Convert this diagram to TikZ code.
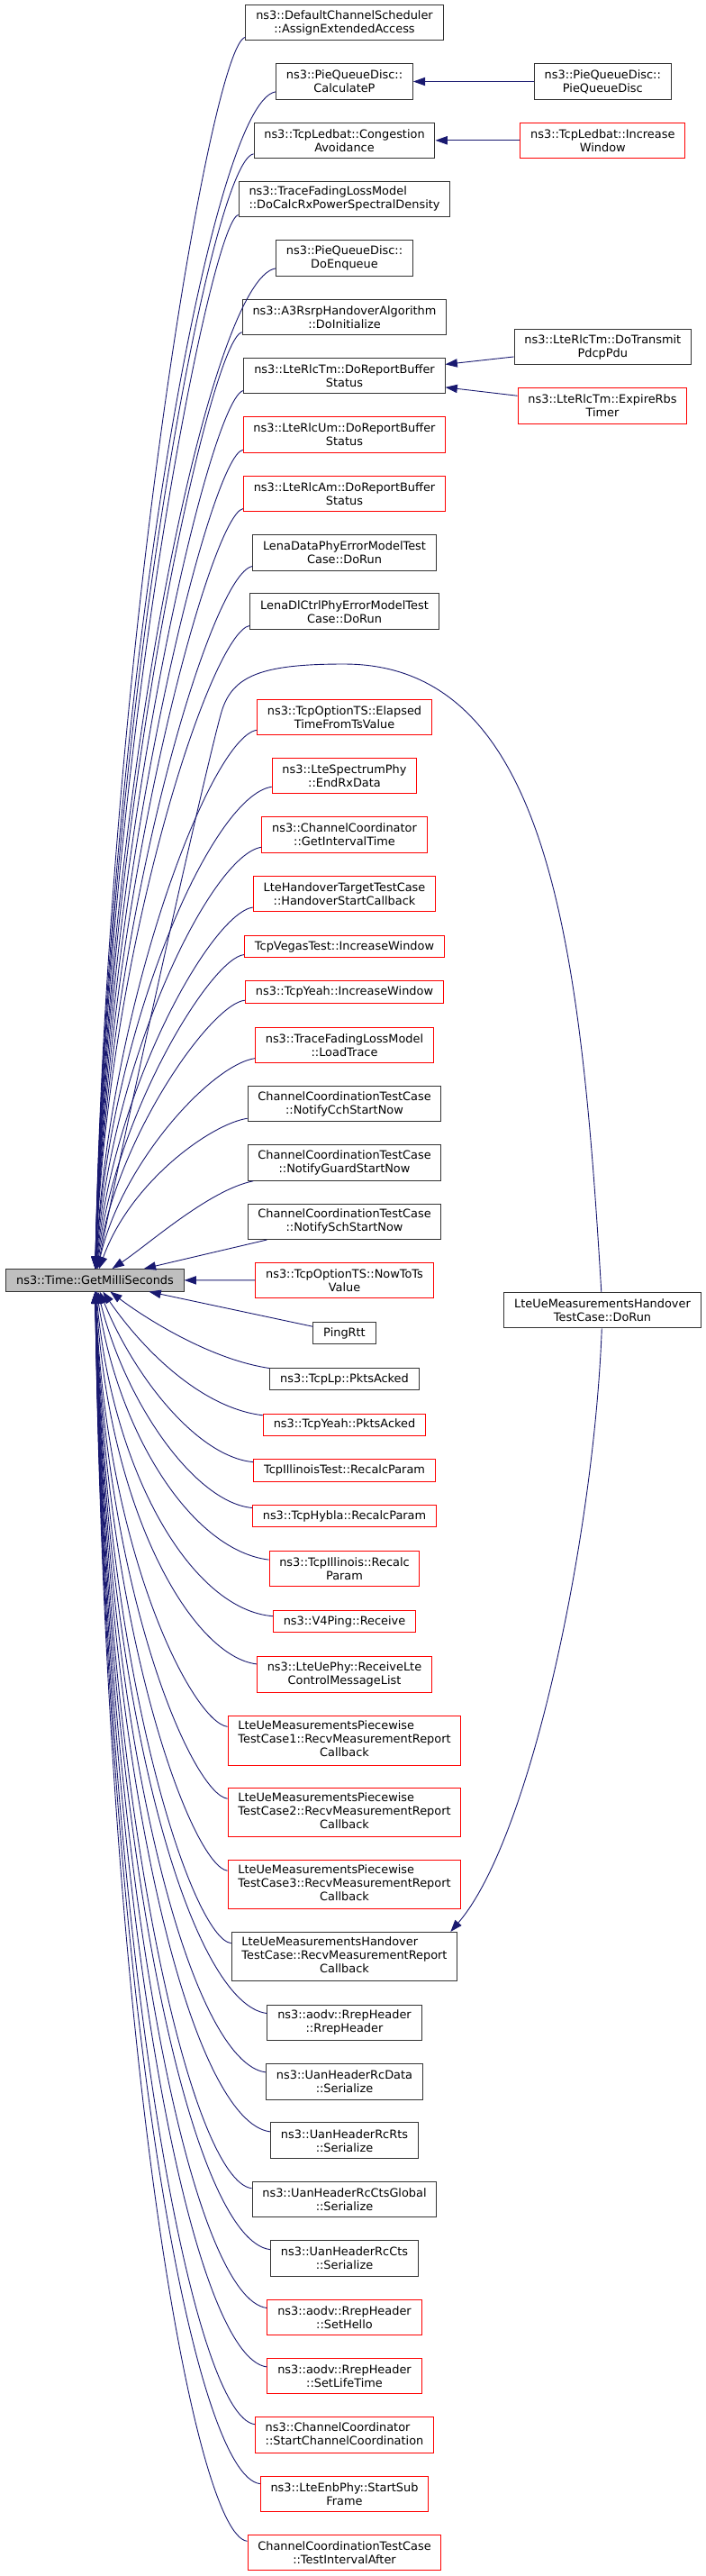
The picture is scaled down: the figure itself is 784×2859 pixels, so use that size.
\documentclass[tikz,border=0pt]{standalone}
\usepackage{fontspec}
\setmainfont{DejaVu Sans}
\usetikzlibrary{arrows.meta}
\definecolor{midnight}{HTML}{191970}
\newcommand{\leftlines}[1]{\begin{tabular}{@{}l@{}}#1\end{tabular}}
\newcommand{\midline}[1]{\multicolumn{1}{@{}c@{}}{#1}}

\begin{document}
\begin{tikzpicture}
    [
    x=1pt,y=-1pt,
    fn/.style={rectangle,draw=black!80,fill=white,line width=1pt,align=center,inner xsep=11.3pt,inner ysep=1pt,minimum height=24.5pt,font=\fontsize{12.9pt}{15pt}\selectfont},
    fnred/.style={fn,draw=red},
    fnroot/.style={fn,fill=black!25},
    lines2/.style={minimum height=39.5pt},
    lines3/.style={minimum height=54.5pt},
    callarrow/.style={draw=midnight,line width=0.9pt,-{Triangle[length=13.3pt,width=9.3pt]}},
    ]
    \useasboundingbox (0,0) rectangle (784,2859);

    \node (root) at (105.5,1420.8) [fnroot] {ns3::Time::GetMilliSeconds};

    \node (dcs) at (382.5,25) [fn,lines2] {ns3::DefaultChannelScheduler\\::AssignExtendedAccess};
    \node (calcp) at (382.5,90.5) [fn,lines2] {ns3::PieQueueDisc::\\CalculateP};
    \node (congav) at (382.5,155.8) [fn,lines2] {ns3::TcpLedbat::Congestion\\Avoidance};
    \node (docalc) at (382.5,221) [fn,lines2] {\leftlines{ns3::TraceFadingLossModel\\::DoCalcRxPowerSpectralDensity}};
    \node (doenq) at (382.5,286.5) [fn,lines2] {ns3::PieQueueDisc::\\DoEnqueue};
    \node (doinit) at (382.5,351.8) [fn,lines2] {ns3::A3RsrpHandoverAlgorithm\\::DoInitialize};
    \node (tmrbs) at (382.5,416.8) [fn,lines2] {ns3::LteRlcTm::DoReportBuffer\\Status};
    \node (umrbs) at (382.5,482.5) [fnred,lines2] {ns3::LteRlcUm::DoReportBuffer\\Status};
    \node (amrbs) at (382.5,547.8) [fnred,lines2] {ns3::LteRlcAm::DoReportBuffer\\Status};
    \node (lenadata) at (382.5,613.3) [fn,lines2] {LenaDataPhyErrorModelTest\\Case::DoRun};
    \node (lenadl) at (382.5,678.7) [fn,lines2] {LenaDlCtrlPhyErrorModelTest\\Case::DoRun};
    \node (elapsed) at (382.5,795.8) [fnred,lines2] {ns3::TcpOptionTS::Elapsed\\TimeFromTsValue};
    \node (endrx) at (382.5,861.2) [fnred,lines2] {ns3::LteSpectrumPhy\\::EndRxData};
    \node (getint) at (382.5,926.5) [fnred,lines2] {ns3::ChannelCoordinator\\::GetIntervalTime};
    \node (hostart) at (382.5,991.8) [fnred,lines2] {LteHandoverTargetTestCase\\::HandoverStartCallback};
    \node (vegas) at (382.5,1050.5) [fnred] {TcpVegasTest::IncreaseWindow};
    \node (yeahinc) at (382.5,1101.2) [fnred] {ns3::TcpYeah::IncreaseWindow};
    \node (loadtr) at (382.5,1159.8) [fnred,lines2] {ns3::TraceFadingLossModel\\::LoadTrace};
    \node (cch) at (382.5,1225.2) [fn,lines2] {ChannelCoordinationTestCase\\::NotifyCchStartNow};
    \node (guard) at (382.5,1290.5) [fn,lines2] {ChannelCoordinationTestCase\\::NotifyGuardStartNow};
    \node (sch) at (382.5,1355.8) [fn,lines2] {ChannelCoordinationTestCase\\::NotifySchStartNow};
    \node (nowto) at (382.5,1421) [fnred,lines2] {ns3::TcpOptionTS::NowToTs\\Value};
    \node (pingrtt) at (382.5,1479.7) [fn] {PingRtt};
    \node (lpacked) at (382.5,1530.7) [fn] {ns3::TcpLp::PktsAcked};
    \node (yeahacked) at (382.5,1581.3) [fnred] {ns3::TcpYeah::PktsAcked};
    \node (illtest) at (382.5,1632) [fnred] {TcpIllinoisTest::RecalcParam};
    \node (hybla) at (382.5,1682.5) [fnred] {ns3::TcpHybla::RecalcParam};
    \node (illrec) at (382.5,1741.2) [fnred,lines2] {ns3::TcpIllinois::Recalc\\Param};
    \node (v4recv) at (382.5,1799.7) [fnred] {ns3::V4Ping::Receive};
    \node (ctrlmsg) at (382.5,1858.5) [fnred,lines2] {ns3::LteUePhy::ReceiveLte\\ControlMessageList};
    \node (pw1) at (382.5,1931.8) [fnred,lines3] {\leftlines{LteUeMeasurementsPiecewise\\TestCase1::RecvMeasurementReport\\\midline{Callback}}};
    \node (pw2) at (382.5,2011.7) [fnred,lines3] {\leftlines{LteUeMeasurementsPiecewise\\TestCase2::RecvMeasurementReport\\\midline{Callback}}};
    \node (pw3) at (382.5,2091.7) [fnred,lines3] {\leftlines{LteUeMeasurementsPiecewise\\TestCase3::RecvMeasurementReport\\\midline{Callback}}};
    \node (horecv) at (382.5,2171.7) [fn,lines3] {\leftlines{LteUeMeasurementsHandover\\TestCase::RecvMeasurementReport\\\midline{Callback}}};
    \node (rrep) at (382.5,2244.8) [fn,lines2] {ns3::aodv::RrepHeader\\::RrepHeader};
    \node (rcdata) at (382.5,2310.3) [fn,lines2] {ns3::UanHeaderRcData\\::Serialize};
    \node (rcrts) at (382.5,2375.7) [fn,lines2] {ns3::UanHeaderRcRts\\::Serialize};
    \node (ctsglob) at (382.5,2441) [fn,lines2] {ns3::UanHeaderRcCtsGlobal\\::Serialize};
    \node (rccts) at (382.5,2506.5) [fn,lines2] {ns3::UanHeaderRcCts\\::Serialize};
    \node (sethello) at (382.5,2571.8) [fnred,lines2] {ns3::aodv::RrepHeader\\::SetHello};
    \node (setlife) at (382.5,2637.2) [fnred,lines2] {ns3::aodv::RrepHeader\\::SetLifeTime};
    \node (startcc) at (382.5,2702.5) [fnred,lines2] {\leftlines{ns3::ChannelCoordinator\\::StartChannelCoordination}};
    \node (subframe) at (382.5,2767.8) [fnred,lines2] {ns3::LteEnbPhy::StartSub\\Frame};
    \node (testint) at (382.5,2833.2) [fnred,lines2] {ChannelCoordinationTestCase\\::TestIntervalAfter};

    \node (pqd) at (669.3,90.5) [fn,lines2] {ns3::PieQueueDisc::\\PieQueueDisc};
    \node (ledinc) at (669.3,155.8) [fnred,lines2] {ns3::TcpLedbat::Increase\\Window};
    \node (dotx) at (669.3,385) [fn,lines2] {ns3::LteRlcTm::DoTransmit\\PdcpPdu};
    \node (expire) at (669,450.3) [fnred,lines2] {ns3::LteRlcTm::ExpireRbs\\Timer};
    \node (dorun) at (669,1454.2) [fn,lines2] {LteUeMeasurementsHandover\\TestCase::DoRun};

    % callers above
    \draw [callarrow] (dcs) .. controls (235,47) and (120,723) .. (root);
    \draw [callarrow] (calcp) .. controls (235,112.5) and (120,755.8) .. (root);
    \draw [callarrow] (congav) .. controls (235,177.8) and (120,788.4) .. (root);
    \draw [callarrow] (docalc) .. controls (235,243) and (120,821) .. (root);
    \draw [callarrow] (doenq) .. controls (235,308.5) and (120,853.8) .. (root);
    \draw [callarrow] (doinit) .. controls (235,373.8) and (120,886.4) .. (root);
    \draw [callarrow] (tmrbs) .. controls (235,438.8) and (120,918.9) .. (root);
    \draw [callarrow] (umrbs) .. controls (235,504.5) and (120,951.8) .. (root);
    \draw [callarrow] (amrbs) .. controls (235,569.8) and (120,984.4) .. (root);
    \draw [callarrow] (lenadata) .. controls (235,635.3) and (120,1017.2) .. (root);
    \draw [callarrow] (lenadl) .. controls (235,700.7) and (120,1049.9) .. (root);
    \draw [callarrow] (elapsed) .. controls (235,817.8) and (122,1108.4) .. (root);
    \draw [callarrow] (endrx) .. controls (235,883.2) and (122,1141.1) .. (root);
    \draw [callarrow] (getint) .. controls (235,948.5) and (124,1173.8) .. (root);
    \draw [callarrow] (hostart) .. controls (235,1013.8) and (126,1206.4) .. (root);
    \draw [callarrow] (vegas) .. controls (235,1062.5) and (128,1235.8) .. (root);
    \draw [callarrow] (yeahinc) .. controls (235,1113.2) and (130,1261.1) .. (root);
    \draw [callarrow] (loadtr) .. controls (235,1181.8) and (135,1290.4) .. (root);
    \draw [callarrow] (cch) .. controls (235,1247.2) and (145,1311) .. (root);
    \draw [callarrow] (guard) .. controls (232.5,1320.5) and (165,1381) .. (root);
    \draw [callarrow] (sch) -- (root);
    \draw [callarrow] (nowto) -- (root);

    % callers below
    \draw [callarrow] (pingrtt) -- (root);
    \draw [callarrow] (lpacked) .. controls (232.5,1508.7) and (160,1462) .. (root);
    \draw [callarrow] (yeahacked) .. controls (225,1563) and (160,1500) .. (root);
    \draw [callarrow] (illtest) .. controls (220,1617) and (150,1530) .. (root);
    \draw [callarrow] (hybla) .. controls (218,1668) and (140,1560) .. (root);
    \draw [callarrow] (illrec) .. controls (215,1721) and (132,1595) .. (root);
    \draw [callarrow] (v4recv) .. controls (215,1787) and (126,1640) .. (root);
    \draw [callarrow] (ctrlmsg) .. controls (215,1838.5) and (122,1683.5) .. (root);
    \draw [callarrow] (pw1) .. controls (215,1911.8) and (118,1727.5) .. (root);
    \draw [callarrow] (pw2) .. controls (215,1991.7) and (118,1775.4) .. (root);
    \draw [callarrow] (pw3) .. controls (215,2071.7) and (118,1823.4) .. (root);
    \draw [callarrow] (horecv) .. controls (215,2151.7) and (118,1871.4) .. (root);
    \draw [callarrow] (rrep) .. controls (215,2224.8) and (118,1915.3) .. (root);
    \draw [callarrow] (rcdata) .. controls (215,2290.3) and (118,1954.6) .. (root);
    \draw [callarrow] (rcrts) .. controls (215,2355.7) and (118,1993.8) .. (root);
    \draw [callarrow] (ctsglob) .. controls (215,2421) and (118,2033) .. (root);
    \draw [callarrow] (rccts) .. controls (215,2486.5) and (118,2072.1) .. (root);
    \draw [callarrow] (sethello) .. controls (215,2551.8) and (118,2111.5) .. (root);
    \draw [callarrow] (setlife) .. controls (215,2617.2) and (118,2150.7) .. (root);
    \draw [callarrow] (startcc) .. controls (215,2682.5) and (118,2189.5) .. (root);
    \draw [callarrow] (subframe) .. controls (215,2747.8) and (118,2228.7) .. (root);
    \draw [callarrow] (testint) .. controls (215,2813.2) and (118,2268.3) .. (root);

    % second level
    \draw [callarrow] (pqd) -- (calcp);
    \draw [callarrow] (ledinc) -- (congav);
    \draw [callarrow] (dotx) -- (tmrbs);
    \draw [callarrow] (expire) -- (tmrbs);
    \draw [callarrow] (dorun) .. controls (660,1700) and (590,2040) .. ([xshift=-8pt]horecv.north east);
    \draw [callarrow] (dorun) .. controls (645,1050) and (610,737) .. (382,737)
        .. controls (290,737) and (258,750) .. (246,790)
        .. controls (232,838) and (150,1200) .. (root);
\end{tikzpicture}
\end{document}
